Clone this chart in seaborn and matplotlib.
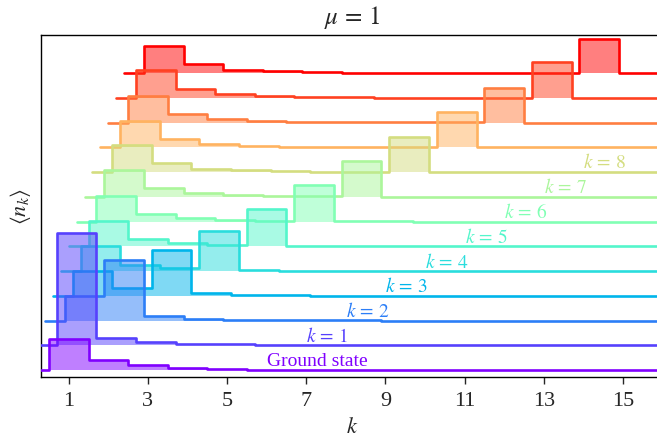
import numpy as np
import pandas as pd
import matplotlib
matplotlib.use('Agg')
import matplotlib.pyplot as plt
import seaborn as sns

# occupation <n_k> per mode k = 1, 2, ... (arbitrary units)
ground = [30.7, 10.0, 5.0, 2.3, 1.0, 0.5, 0.3, 0.2, 0.1, 0.1]
exc_1 = [112.7, 7.3, 3.3, 1.7, 0.8, 0.4, 0.2, 0.1]
exc_2 = [25.0, 60.3, 4.3, 1.7, 0.8, 0.4, 0.2, 0.1]
exc_3 = [25.0, 7.7, 45.3, 2.7, 1.0, 0.5, 0.2, 0.1]
exc_4 = [25.3, 6.0, 2.7, 40.0, 0.8, 0.4, 0.2, 0.1]
exc_5 = [25.3, 7.7, 3.7, 1.7, 37.0, 0.5, 0.3, 0.1]
exc_6 = [26.0, 8.0, 3.8, 1.5, 0.8, 36.5, 0.3, 0.1]
exc_7 = [27.0, 8.7, 3.7, 2.0, 0.6, 0.4, 35.7, 0.1]
exc_8 = [27.0, 9.0, 3.3, 2.0, 1.0, 0.5, 0.3, 35.0]
exc_9 = [26.7, 8.7, 3.4, 1.7, 0.5, 0.3, 0.2, 0.1, 35.0]
exc_10 = [26.7, 8.3, 4.0, 1.7, 0.8, 0.4, 0.2, 0.1, 0.1, 35.0]
exc_11 = [27.3, 9.0, 4.0, 1.7, 0.8, 0.4, 0.2, 0.1, 0.1, 0.1, 35.7]
exc_12 = [27.3, 9.0, 3.3, 1.7, 0.7, 0.4, 0.2, 0.1, 0.1, 0.1, 0.1, 34.3]
curves = [ground, exc_1, exc_2, exc_3, exc_4, exc_5, exc_6, exc_7, exc_8,
          exc_9, exc_10, exc_11, exc_12]
labels = ['Ground state', r'$k\,=\,1$', r'$k\,=\,2$', r'$k\,=\,3$', r'$k\,=\,4$',
          r'$k\,=\,5$', r'$k\,=\,6$', r'$k\,=\,7$', r'$k\,=\,8$']
xticks = [1, 3, 5, 7, 9, 11, 13, 15]

# waterfall offsets
dy = 24.75
dx = 0.2
nbins = 17

sns.set_style('ticks')
plt.rcParams['font.family'] = ['Liberation Serif', 'DejaVu Serif']
plt.rcParams['mathtext.fontset'] = 'stix'
plt.rcParams['font.size'] = 14

fig = plt.figure(figsize=(6.57, 4.43), dpi=100)
ax = fig.add_axes([41/657, 1 - 377/443, (662.6 - 41)/657, (377 - 35)/443])

colors = plt.cm.rainbow(np.linspace(0, 1, len(curves)))

for i in range(len(curves) - 1, -1, -1):
    n = np.zeros(nbins)
    n[1:1 + len(curves[i])] = curves[i]
    df = pd.DataFrame({'k': np.arange(nbins) + dx*i, 'n': n + dy*i})
    z = 3*(len(curves) - i)
    ax.fill_between(df['k'], dy*i, df['n'], step='mid', color=colors[i],
                    alpha=0.5, lw=0, zorder=z)
    sns.lineplot(data=df, x='k', y='n', ax=ax, color=colors[i], lw=1.9,
                 drawstyle='steps-mid', zorder=z + 1)
    if i < len(labels):
        ax.text(6 + i, dy*i + 3.5, labels[i], color=colors[i], ha='left',
                va='baseline', fontsize=14, zorder=z + 2)

ax.set_xlim(0.3, 16)
ax.set_ylim(-7, 335)
ax.set_xticks(xticks)
ax.set_yticks([])
ax.tick_params(axis='x', direction='out', length=5, width=1, labelsize=16, pad=6)
for s in ax.spines.values():
    s.set_linewidth(1.0)
    s.set_color('black')
ax.set_xlabel('$k$', fontsize=16, labelpad=5)
ax.set_ylabel(r'$\langle n_k \rangle$', fontsize=16, labelpad=6)
ax.set_title(r'$\mu\,=\,1$', fontsize=18, pad=8)

fig.savefig('out.png', dpi=100)
